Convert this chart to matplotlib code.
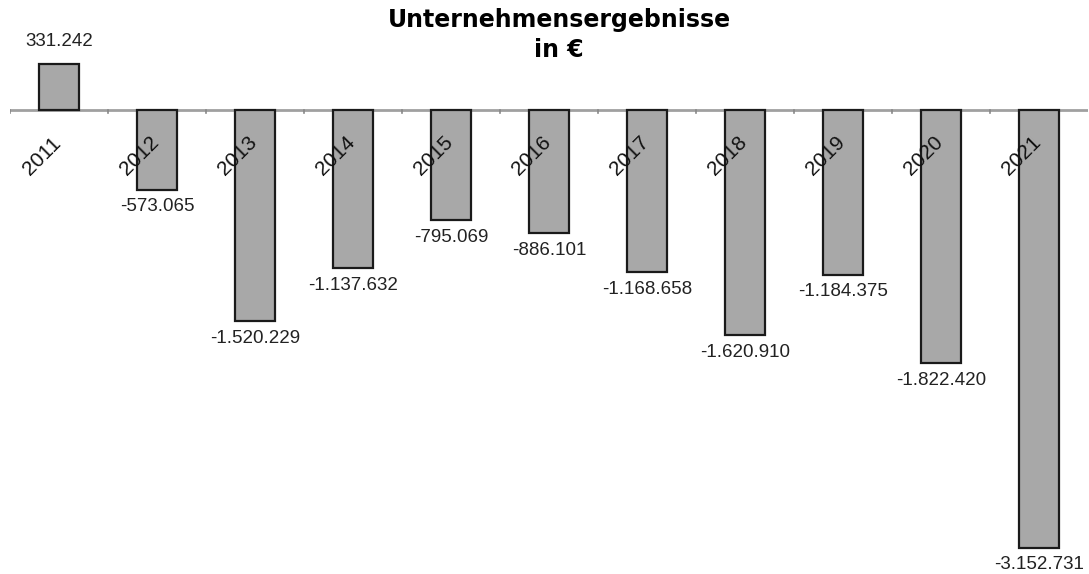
import matplotlib.pyplot as plt

# Daten
jahre = ["2011", "2012", "2013", "2014", "2015", "2016",
         "2017", "2018", "2019", "2020", "2021"]
ergebnis = [331242, -573065, -1520229, -1137632, -795069, -886101,
            -1168658, -1620910, -1184375, -1822420, -3152731]
beschriftung = ["331.242", "-573.065", "-1.520.229", "-1.137.632", "-795.069", "-886.101",
                "-1.168.658", "-1.620.910", "-1.184.375", "-1.822.420", "-3.152.731"]

fig = plt.figure(figsize=(10.89, 5.74), dpi=100)
ax = fig.add_axes([10 / 1089, 0, 1078 / 1089, 1])

x = range(len(jahre))
ax.bar(x, ergebnis, width=0.41, color="#a8a8a8", edgecolor="#1a1a1a", linewidth=1.6, zorder=2)
ax.axhline(0, color="#a0a0a0", linewidth=2, zorder=1)

ax.set_xlim(-0.5, len(jahre) - 0.5)
ax.set_ylim(-3340000, 792000)

# kleine Striche zwischen den Kategorien
for k in range(len(jahre)):
    ax.plot([k - 0.5, k - 0.5], [0, -25000], color="#888888", linewidth=1.2, zorder=1)

for i, (v, txt) in enumerate(zip(ergebnis, beschriftung)):
    dy = 23 if v > 0 else -17
    ax.annotate(txt, (i, v), xytext=(0, dy), textcoords="offset pixels",
                ha="center", va="center", fontsize=13.5, family="Liberation Sans",
                color="#222222", zorder=3)
    ax.annotate(jahre[i], (i, 0), xytext=(-17, -46), textcoords="offset pixels",
                ha="center", va="center", rotation=45, fontsize=15,
                family="Liberation Sans", color="#111111", zorder=3)

ax.axis("off")

fig.text(559 / 1089, 1 - 20 / 574, "Unternehmensergebnisse", ha="center", va="center",
         fontsize=17, fontweight="bold", family="DejaVu Sans")
fig.text(559 / 1089, 1 - 50 / 574, "in €", ha="center", va="center",
         fontsize=17, fontweight="bold", family="DejaVu Sans")

fig.savefig("out.png", dpi=100)
